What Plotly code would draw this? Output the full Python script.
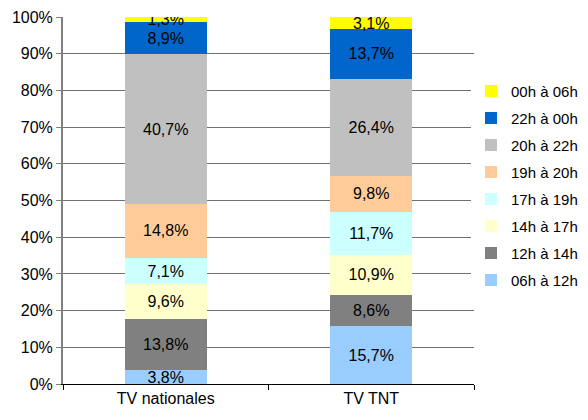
import plotly.graph_objects as go

categories = ["TV nationales", "TV TNT"]
series_names = ["06h à 12h", "12h à 14h", "14h à 17h", "17h à 19h",
                "19h à 20h", "20h à 22h", "22h à 00h", "00h à 06h"]
nationales = [3.8, 13.8, 9.6, 7.1, 14.8, 40.7, 8.9, 1.3]
tnt = [15.7, 8.6, 10.9, 11.7, 9.8, 26.4, 13.7, 3.1]
colors = ["#99CCFF", "#808080", "#FFFFCC", "#CCFFFF",
          "#FFCC99", "#C0C0C0", "#0066CC", "#FFFF00"]
y_ticks = list(range(0, 101, 10))

FONT = "Liberation Sans, Arial, sans-serif"

fig = go.Figure()
n = len(series_names)
for i, name in enumerate(series_names):
    fig.add_trace(go.Bar(
        x=categories,
        y=[nationales[i], tnt[i]],
        name=name,
        legendgroup=name,
        legendrank=(n - i) * 10,
        marker=dict(color=colors[i], line=dict(width=0)),
        texttemplate="%{y:.1f}%",
        textposition="inside",
        insidetextanchor="middle",
        textangle=0,
        constraintext="none",
        textfont=dict(family=FONT, size=16, color="#000000"),
        hoverinfo="skip",
    ))

fig.update_layout(
    width=588, height=412,
    barmode="stack",
    bargap=0.6,
    separators=", ",
    paper_bgcolor="white",
    plot_bgcolor="white",
    font=dict(family=FONT, size=16, color="#000000"),
    margin=dict(l=55, r=122, t=9, b=36, pad=0, autoexpand=False),
    legend=dict(
        traceorder="grouped",
        x=0.9927, xanchor="left",
        y=0.54, yanchor="middle",
        font=dict(family=FONT, size=15, color="#000000"),
        tracegroupgap=4.5,
        itemwidth=30,
    ),
    showlegend=True,
)
fig.update_xaxes(
    showline=True, linecolor="#000000", linewidth=1,
    ticks="outside", ticklen=5, tickcolor="#000000",
    tickson="boundaries",
    showgrid=False, automargin=False,
)
fig.update_yaxes(
    range=[0, 100],
    tickvals=y_ticks,
    ticktext=[f"{v}%" for v in y_ticks],
    ticklabeloverflow="allow",
    showline=True, linecolor="#808080", linewidth=2,
    ticks="outside", ticklen=5, tickcolor="#808080",
    showgrid=True, gridcolor="#707070", gridwidth=1,
    zeroline=False, automargin=False,
)

fig.write_html("out.html")
